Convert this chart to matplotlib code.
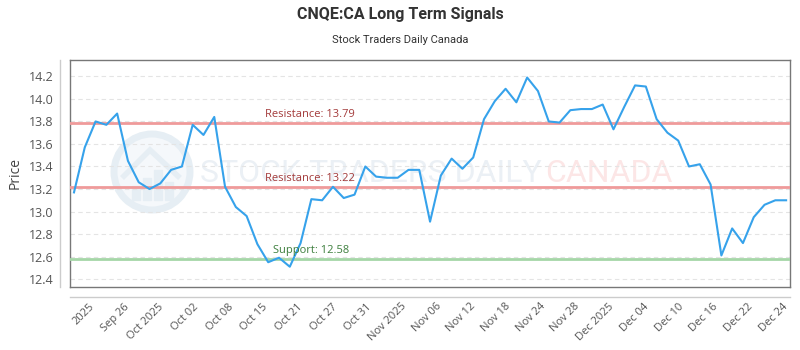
import numpy as np
import matplotlib
matplotlib.use("Agg")
import matplotlib.pyplot as plt
from matplotlib.patches import Circle, Rectangle, Polygon

# Closing prices, one per trading day (Sep 22 - Dec 24)
closes = [13.17, 13.57, 13.80, 13.77, 13.87, 13.45, 13.26, 13.20, 13.25, 13.37,
          13.40, 13.77, 13.68, 13.84, 13.22, 13.04, 12.96, 12.71, 12.55, 12.59,
          12.51, 12.72, 13.11, 13.10, 13.22, 13.12, 13.15, 13.40, 13.31, 13.30,
          13.30, 13.37, 13.37, 12.91, 13.32, 13.47, 13.38, 13.48, 13.82, 13.98,
          14.09, 13.97, 14.19, 14.07, 13.80, 13.79, 13.90, 13.91, 13.91, 13.95,
          13.73, 13.93, 14.12, 14.11, 13.82, 13.70, 13.63, 13.40, 13.42, 13.24,
          12.61, 12.85, 12.72, 12.95, 13.06, 13.10, 13.10]
tick_labels = ["2025", "Sep 26", "Oct 2025", "Oct 02", "Oct 08", "Oct 15", "Oct 21",
               "Oct 27", "Oct 31", "Nov 2025", "Nov 06", "Nov 12", "Nov 18", "Nov 24",
               "Nov 28", "Dec 2025", "Dec 04", "Dec 10", "Dec 16", "Dec 22", "Dec 24"]
levels = [("Resistance", 13.79), ("Resistance", 13.22), ("Support", 12.58)]
yticks = [12.4, 12.6, 12.8, 13.0, 13.2, 13.4, 13.6, 13.8, 14.0, 14.2]

narrow = ["Roboto", "DejaVu Sans"]
plt.rcParams["font.family"] = ["Open Sans", "DejaVu Sans"]

fig = plt.figure(figsize=(8, 3.5), dpi=100)
ax = fig.add_axes([0.0875, 0.18, 0.9, 0.65])
ax.set_zorder(2)
ax.patch.set_alpha(0)

# watermark behind the plot
wm = fig.add_axes([0, 0, 1, 1], zorder=0)
wm.set_xlim(0, 800)
wm.set_ylim(350, 0)
wm.axis("off")
wm.add_patch(Circle((152, 172), 38, facecolor="#f5f8fb", edgecolor="#e6eef4", lw=5))
wm.add_patch(Polygon([[122, 178], [150, 150], [180, 178]], closed=False, fill=False,
                     edgecolor="#e6eef4", lw=4))
for bx, bh in [(132, 14), (143, 22), (154, 30), (165, 18)]:
    wm.add_patch(Rectangle((bx, 200 - bh), 8, bh, color="#e6eef4"))
wm.text(200, 174, "STOCK TRADERS DAILY", family=narrow, fontsize=23, color="#ebf0f5",
        ha="left", va="center")
wm.text(545, 174, "CANADA", family=narrow, fontsize=23, color="#fce6e6",
        ha="left", va="center")

x = np.arange(len(closes))
ax.plot(x, closes, color="#36a2eb", lw=1.5, zorder=4)

for name, val in levels:
    c_line = "#ef9a9a" if name == "Resistance" else "#a5d6a7"
    c_text = "#a33a3a" if name == "Resistance" else "#3d7f3d"
    ax.axhline(val, color=c_line, lw=2, zorder=3)
    xt = 0.271 if name == "Resistance" else 0.282
    ax.text(xt, val + 0.025, f"{name}: {val:.2f}", transform=ax.get_yaxis_transform(),
            color=c_text, fontsize=8, ha="left", va="bottom", zorder=5)

ax.set_xlim(-0.37, 66.36)
ax.set_ylim(12.33, 14.35)
ax.set_yticks(yticks)
ax.set_yticklabels([f"{v:.1f}" for v in yticks])
ax.grid(axis="y", color="#e4e4e4", ls=(0, (4, 3)), lw=0.8)
ax.set_axisbelow(True)

tick_pos = (np.linspace(93, 786, len(tick_labels)) - 74) / 10.79
ax.set_xticks(tick_pos)
ax.set_xticklabels(tick_labels, rotation=45, ha="right", va="center",
                   rotation_mode="anchor")
ax.tick_params(axis="x", length=0, pad=13, labelsize=8, labelcolor="#555555")
ax.tick_params(axis="y", length=0, pad=12, labelsize=9, labelcolor="#555555")

for s in ax.spines.values():
    s.set_color("#777777")
    s.set_linewidth(1)

# offset axis lines outside the frame
ax.plot([-10 / 720, -10 / 720], [0, 1], transform=ax.transAxes, color="#cccccc",
        lw=1, clip_on=False)
ax.plot([0, 1], [-10 / 227.5, -10 / 227.5], transform=ax.transAxes, color="#cccccc",
        lw=1, clip_on=False)

fig.text(0.5, 1 - 15 / 350, "CNQE:CA Long Term Signals", family=narrow,
         fontsize=11.5, fontweight="bold", color="#333333", ha="center", va="center")
fig.text(0.5, 1 - 40 / 350, "Stock Traders Daily Canada", family=narrow,
         fontsize=8, color="#333333", ha="center", va="center")
fig.text(15 / 800, 1 - 173 / 350, "Price", fontsize=10, color="#444444",
         rotation=90, ha="center", va="center")

fig.savefig("out.png", dpi=100)
